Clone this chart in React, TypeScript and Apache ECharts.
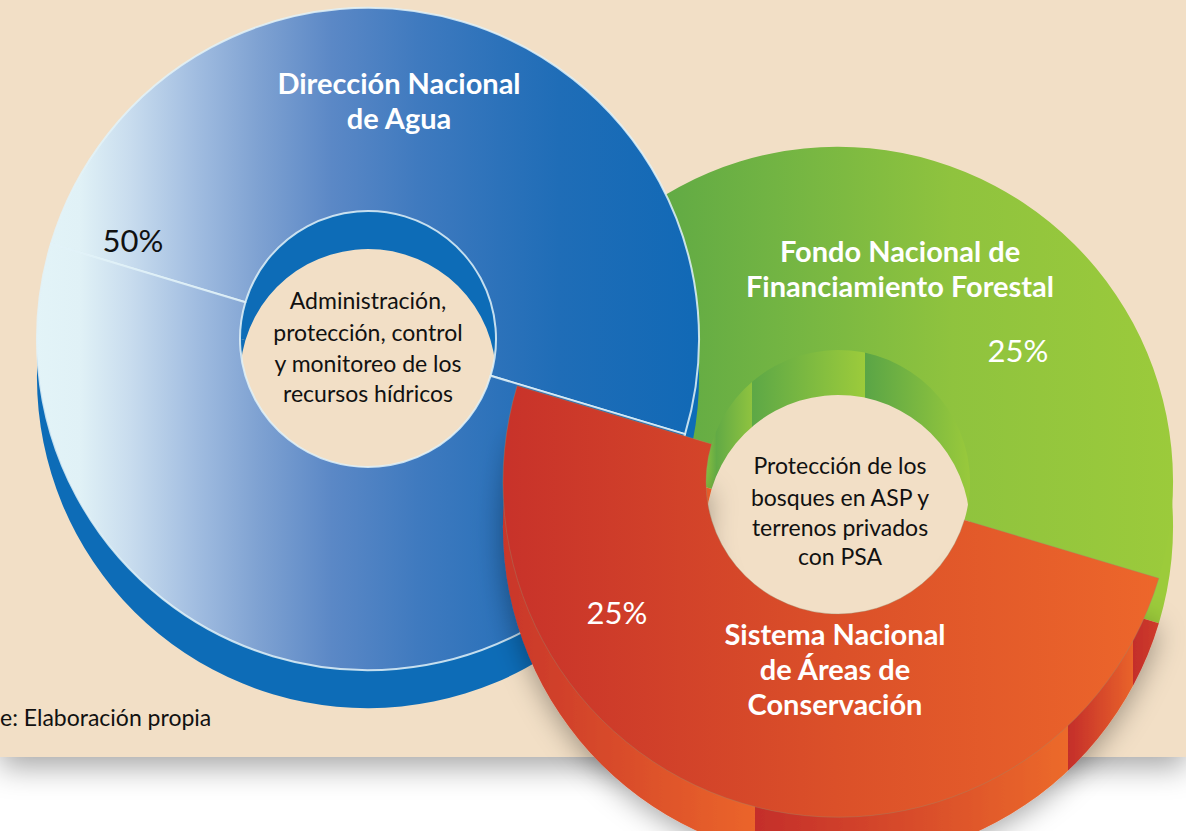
import React, { useEffect, useRef } from "react";
import * as echarts from "echarts";

// ---- data ----
const institutions = [
  "Dirección Nacional de Agua",
  "Fondo Nacional de Financiamiento Forestal",
  "Sistema Nacional de Áreas de Conservación",
];
const shares = [50, 25, 25];
const shareLabels = ["50%", "25%", "25%"];
const nameLines = [
  ["Dirección Nacional", "de Agua"],
  ["Fondo Nacional de", "Financiamiento Forestal"],
  ["Sistema Nacional", "de Áreas de", "Conservación"],
];
const roleLines = [
  ["Administración,", "protección, control", "y monitoreo de los", "recursos hídricos"],
  ["Protección de los", "bosques en ASP y", "terrenos privados", "con PSA"],
];
const sourceText = "e: Elaboración propia";

const FONT = "Lato, 'Open Sans', 'Noto Sans', sans-serif";

function lg(x0: number, x1: number, stops: [number, string][]) {
  return new echarts.graphic.LinearGradient(
    x0, 0, x1, 0,
    stops.map(([offset, color]) => ({ offset, color })),
    true
  );
}

const NONE = "rgba(0,0,0,0)";

export default function App() {
  const ref = useRef<HTMLDivElement>(null);

  useEffect(() => {
    if (!ref.current) return;
    const chart = echarts.init(ref.current, null, { renderer: "svg" });

    // geometry
    const L = { cx: 368, cy: 339, r0: 128, r: 331, d: 38 };
    const R = { cx: 838, cy: 482, r0: 132, r: 335, d: 45 };
    const startAngle = 163.3;

    const blueTop = lg(30, 700, [
      [0, "#e3f4f8"], [0.075, "#e0f1f6"], [0.15, "#c8dcee"], [0.25, "#a0bce0"],
      [0.34, "#7fa2d2"], [0.45, "#5b88c6"], [0.58, "#3f7abf"], [0.7, "#2c72ba"],
      [0.79, "#1f6db7"], [1, "#1169b6"],
    ]);
    const greenTop = lg(600, 1186, [
      [0, "#58a545"], [0.3, "#72b443"], [0.6, "#8fc33e"], [1, "#9ccb3b"],
    ]);
    const greenSide = lg(700, 975, [
      [0, "#a0cc3c"], [0.06, "#62aa45"], [0.19, "#8fc33f"], [0.19, "#5da846"],
      [0.6, "#9ccb3b"], [0.6, "#5aa546"], [1, "#9ccb3b"],
    ]);
    const redTop = lg(490, 1180, [
      [0, "#c7312a"], [0.5, "#db5029"], [1, "#ee682b"],
    ]);
    const redSide = lg(480, 1186, [
      [0, "#c6322a"], [0.39, "#eb6529"], [0.39, "#c42e29"], [0.833, "#ec6a2b"],
      [0.833, "#c42e29"], [0.925, "#e9632a"], [0.925, "#c42e29"], [1, "#d84b2a"],
    ]);

    const base = {
      type: "pie",
      silent: true,
      startAngle,
      clockwise: true,
      label: { show: false },
      labelLine: { show: false },
      emphasis: { disabled: true },
    };

    const leftValues = [shares[0], shares[1] + shares[2]];
    const rightValues = [shares[1], shares[2]];

    const series = [
      // right ring: green part (behind the left ring)
      {
        ...base,
        name: "green-side",
        z: 1,
        center: [R.cx, R.cy + R.d],
        radius: [R.r0, R.r],
        data: [
          { name: institutions[1], value: rightValues[0], itemStyle: { color: greenSide, borderWidth: 0 } },
          { name: institutions[2], value: rightValues[1], itemStyle: { color: NONE, borderWidth: 0 } },
        ],
      },
      {
        ...base,
        name: "green-top",
        z: 2,
        center: [R.cx, R.cy],
        radius: [R.r0, R.r],
        data: [
          { name: institutions[1], value: rightValues[0], itemStyle: { color: greenTop, borderWidth: 0 } },
          { name: institutions[2], value: rightValues[1], itemStyle: { color: NONE, borderWidth: 0 } },
        ],
      },
      // left ring
      {
        ...base,
        name: "blue-side",
        z: 3,
        center: [L.cx, L.cy + L.d],
        radius: [L.r0, L.r],
        data: leftValues.map((v, i) => ({
          name: i === 0 ? institutions[0] : "resto",
          value: v,
          itemStyle: { color: "#0d6cb7", borderWidth: 0 },
        })),
      },
      {
        ...base,
        name: "blue-top",
        z: 4,
        center: [L.cx, L.cy],
        radius: [L.r0, L.r],
        data: leftValues.map((v, i) => ({
          name: i === 0 ? institutions[0] : "resto",
          value: v,
          itemStyle: { color: blueTop, borderWidth: 2, borderColor: "rgba(226,242,248,0.85)" },
        })),
      },
      // right ring: red part (in front of the left ring)
      {
        ...base,
        name: "red-side",
        z: 5,
        center: [R.cx, R.cy + R.d],
        radius: [R.r0, R.r],
        data: [
          { name: institutions[1], value: rightValues[0], itemStyle: { color: NONE, borderWidth: 0 } },
          {
            name: institutions[2], value: rightValues[1],
            itemStyle: {
              color: redSide, borderWidth: 0,
              shadowBlur: 28, shadowColor: "rgba(0,0,0,0.35)", shadowOffsetY: 6,
            },
          },
        ],
      },
      {
        ...base,
        name: "red-top",
        z: 6,
        center: [R.cx, R.cy],
        radius: [R.r0, R.r],
        data: [
          { name: institutions[1], value: rightValues[0], itemStyle: { color: NONE, borderWidth: 0 } },
          { name: institutions[2], value: rightValues[1], itemStyle: { color: redTop, borderWidth: 0.6, borderColor: "rgba(150,140,110,0.6)" } },
        ],
      },
    ];

    const txt = (
      text: string, x: number, y: number, size: number, fill: string,
      weight: string = "normal", align: string = "center"
    ) => ({
      type: "text",
      z: 100,
      silent: true,
      style: {
        text, x, y, fill,
        font: `${weight} ${size}px ${FONT}`,
        textAlign: align,
        textVerticalAlign: "middle",
      },
    });

    const graphic: any[] = [
      {
        type: "rect",
        z: -100,
        silent: true,
        shape: { x: 0, y: 0, width: 1186, height: 757 },
        style: {
          fill: "#f2dfc6",
          shadowBlur: 30, shadowOffsetY: 10, shadowColor: "rgba(0,0,0,0.35)",
        },
      },
    ];

    // institution names
    const namePos = [
      { x: 399, y: [82, 117] },
      { x: 900, y: [250, 285] },
      { x: 835, y: [633, 668, 703] },
    ];
    nameLines.forEach((lines, i) =>
      lines.forEach((line, j) =>
        graphic.push(txt(line, namePos[i].x, namePos[i].y[j], 29, "#ffffff", "bold"))
      )
    );
    // percentages
    const pctPos = [
      { x: 133, y: 240, c: "#111111" },
      { x: 1018, y: 350, c: "#ffffff" },
      { x: 617, y: 612, c: "#ffffff" },
    ];
    shareLabels.forEach((s, i) => graphic.push(txt(s, pctPos[i].x, pctPos[i].y, 31, pctPos[i].c)));
    // role texts
    const rolePos = [
      { x: 368, y: [300, 332, 363, 393] },
      { x: 840, y: [465, 497, 527, 556] },
    ];
    roleLines.forEach((lines, i) =>
      lines.forEach((line, j) =>
        graphic.push(txt(line, rolePos[i].x, rolePos[i].y[j], 23, "#111111"))
      )
    );
    graphic.push(txt(sourceText, 0, 717, 23, "#111111", "normal", "left"));

    chart.setOption({
      animation: false,
      backgroundColor: "#ffffff",
      graphic,
      series,
    });

    return () => chart.dispose();
  }, []);

  return (
    <div
      ref={ref}
      style={{ position: "fixed", left: 0, top: 0, width: 1186, height: 831 }}
    />
  );
}
